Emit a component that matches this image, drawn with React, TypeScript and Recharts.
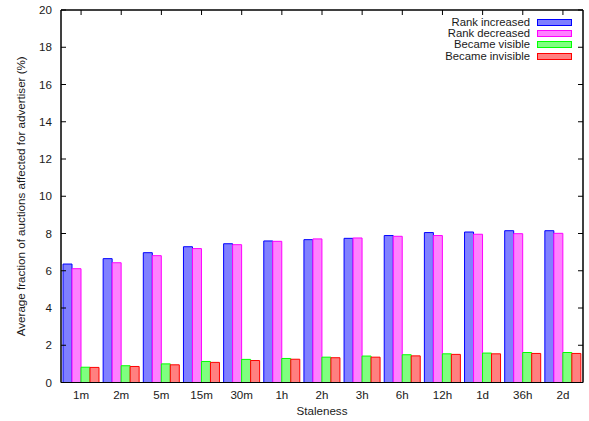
import { Bar, ComposedChart, Line, ReferenceArea, XAxis, YAxis } from "recharts";

const staleness = ["1m", "2m", "5m", "15m", "30m", "1h", "2h", "3h", "6h", "12h", "1d", "36h", "2d"];
const rankIncreased = [6.36, 6.65, 6.97, 7.29, 7.45, 7.6, 7.67, 7.74, 7.89, 8.05, 8.08, 8.15, 8.15];
const rankDecreased = [6.11, 6.43, 6.81, 7.19, 7.4, 7.58, 7.71, 7.76, 7.85, 7.89, 7.96, 7.99, 8.01];
const becameVisible = [0.82, 0.9, 1.0, 1.13, 1.24, 1.29, 1.36, 1.42, 1.49, 1.54, 1.58, 1.61, 1.61];
const becameInvisible = [0.81, 0.86, 0.95, 1.08, 1.18, 1.25, 1.33, 1.36, 1.43, 1.51, 1.54, 1.56, 1.56];
const yTicks = [0, 2, 4, 6, 8, 10, 12, 14, 16, 18, 20];

const series = [
  { key: "inc", name: "Rank increased", fill: "#8080ff", stroke: "#0000ff" },
  { key: "dec", name: "Rank decreased", fill: "#ff80ff", stroke: "#ff00ff" },
  { key: "vis", name: "Became visible", fill: "#80ff80", stroke: "#00ff00" },
  { key: "invis", name: "Became invisible", fill: "#ff8080", stroke: "#ff0000" },
];

const data = staleness.map((s, i) => ({
  s,
  inc: rankIncreased[i],
  dec: rankDecreased[i],
  vis: becameVisible[i],
  invis: becameInvisible[i],
}));

const FONT = "'Liberation Sans', Arial, sans-serif";
const TXT = "#1a1a1a";
const TICK = 5;

function LeftTick({ x, y, payload }: any) {
  return (
    <g>
      <line x1={x} y1={y} x2={x + TICK} y2={y} stroke="#000" />
      <text x={x - 9} y={y + 4} textAnchor="end" fontSize={11.6} fontFamily={FONT} fill={TXT}>
        {payload.value}
      </text>
    </g>
  );
}

function RightTick({ x, y }: any) {
  return <line x1={x - TICK} y1={y} x2={x} y2={y} stroke="#000" />;
}

function BottomTick({ x, y, payload }: any) {
  return (
    <text x={x} y={y + 16} textAnchor="middle" fontSize={11.6} fontFamily={FONT} fill={TXT}>
      {payload.value}
    </text>
  );
}

function TopTick({ x, y }: any) {
  return <line x1={x} y1={y} x2={x} y2={y + TICK} stroke="#000" />;
}

function LegendBox() {
  return (
    <div
      style={{
        position: "absolute",
        top: 16.5,
        right: 17,
        fontFamily: FONT,
        fontSize: 11.3,
        color: TXT,
      }}
    >
      {series.map((s) => (
        <div
          key={s.key}
          style={{ display: "flex", alignItems: "center", justifyContent: "flex-end", height: 11.4, lineHeight: "11.4px" }}
        >
          <span>{s.name}</span>
          <span
            style={{
              display: "inline-block",
              width: 33,
              height: 5,
              marginLeft: 7,
              background: s.fill,
              border: `1px solid ${s.stroke}`,
            }}
          />
        </div>
      ))}
    </div>
  );
}

export default function App() {
  return (
    <div style={{ position: "absolute", left: 0, top: 0, width: 589, height: 421, background: "#fff" }}>
      <ComposedChart
        width={589}
        height={421}
        data={data}
        margin={{ top: 0, right: 0, left: 0, bottom: 0 }}
        barCategoryGap={2}
        barGap={0}
      >
        <XAxis
          dataKey="s"
          height={38.5}
          axisLine={{ stroke: "#000" }}
          tickLine={false}
          tickSize={0}
          tickMargin={0}
          tick={<BottomTick />}
          interval={0}
          label={{
            value: "Staleness",
            position: "insideBottom",
            offset: 6,
            fontSize: 11.6,
            fontFamily: FONT,
            fill: TXT,
          }}
        />
        <XAxis
          xAxisId="top"
          orientation="top"
          dataKey="s"
          height={10}
          axisLine={{ stroke: "#000" }}
          tickLine={false}
          tickSize={0}
          tickMargin={0}
          tick={<TopTick />}
          interval={0}
        />
        <YAxis
          width={61}
          domain={[0, 20]}
          ticks={yTicks}
          interval={0}
          axisLine={{ stroke: "#000" }}
          tickLine={false}
          tickSize={0}
          tickMargin={0}
          tick={<LeftTick />}
          label={{
            content: ({ viewBox }: any) => {
              const cx = viewBox.x + 20;
              const cy = viewBox.y + viewBox.height / 2;
              return (
                <text
                  x={cx}
                  y={cy}
                  transform={`rotate(-90 ${cx} ${cy})`}
                  textAnchor="middle"
                  dominantBaseline="central"
                  fontSize={11.6}
                  fontFamily={FONT}
                  fill={TXT}
                >
                  Average fraction of auctions affected for advertiser (%)
                </text>
              );
            },
          }}
        />
        <YAxis
          yAxisId="right"
          orientation="right"
          width={6}
          domain={[0, 20]}
          ticks={yTicks}
          interval={0}
          axisLine={{ stroke: "#000" }}
          tickLine={false}
          tickSize={0}
          tickMargin={0}
          tick={<RightTick />}
        />
        {/* plot border, like gnuplot's box */}
        <ReferenceArea y1={0} y2={20} fill="none" stroke="#000" strokeWidth={1} fillOpacity={0} />
        {series.map((s) => (
          <Bar
            key={s.key}
            dataKey={s.key}
            name={s.name}
            fill={s.fill}
            stroke={s.stroke}
            strokeWidth={1}
            isAnimationActive={false}
          />
        ))}
        <Line
          xAxisId="top"
          yAxisId="right"
          dataKey="inc"
          stroke="none"
          dot={false}
          activeDot={false}
          legendType="none"
          isAnimationActive={false}
        />
      </ComposedChart>
      <LegendBox />
    </div>
  );
}
